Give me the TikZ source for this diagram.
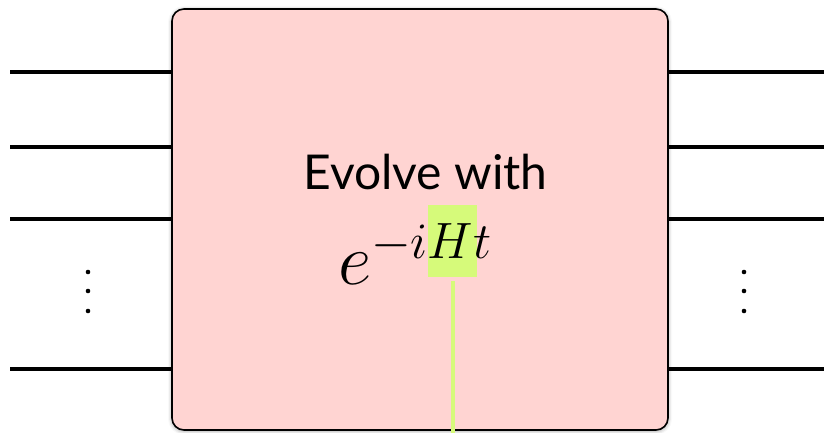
\RequirePackage{fix-cm}
\documentclass[tikz,border=0pt]{standalone}
\usepackage{fontspec}
\setsansfont{Lato}
\usetikzlibrary{positioning, shadows.blur}
\definecolor{boxpink}{RGB}{255,212,210}
\definecolor{hilite}{RGB}{214,250,122}

\begin{document}
\begin{tikzpicture}[x=1pt, y=1pt,
    gate/.style={rectangle, draw=black, line width=1.6pt, fill=boxpink, rounded corners=12pt, minimum width=496pt, minimum height=421pt, blur shadow={shadow xshift=0pt, shadow yshift=-1pt, shadow blur radius=4pt}},
    wire/.style={line width=3.6pt, black},
    hlbox/.style={rectangle, fill=hilite, inner sep=0pt, minimum width=49pt, minimum height=72pt},
    hlwire/.style={line width=4pt, draw=hilite}
]
    \useasboundingbox (0,0) rectangle (824,433);
    \node[gate] (evolve) at (420,213.5) {};

    \foreach \y [count=\i] in {361,286,214,64} {
        \coordinate (in\i) at (10,\y);
        \coordinate (out\i) at (824,\y);
        \draw[wire] (in\i) -- (in\i -| evolve.west);
        \draw[wire] (out\i -| evolve.east) -- (out\i);
    }
    \foreach \y in {161,142,122} {
        \fill (88,\y) circle (2.3);
        \fill (744,\y) circle (2.3);
    }

    \node[hlbox] (ham) at (452.5,192) {};
    \node[font=\sffamily\fontsize{48}{52}\selectfont, anchor=base] (title) at (425.5,243) {Evolve with};
    \node[font=\fontsize{73}{78}\selectfont, anchor=base] (expo) at (415,148) {$e^{-iHt}$};

    \coordinate (hlend) at (452.5,-2);
    \draw[hlwire, shorten <=4pt] (ham.south) -- (hlend);
\end{tikzpicture}
\end{document}
